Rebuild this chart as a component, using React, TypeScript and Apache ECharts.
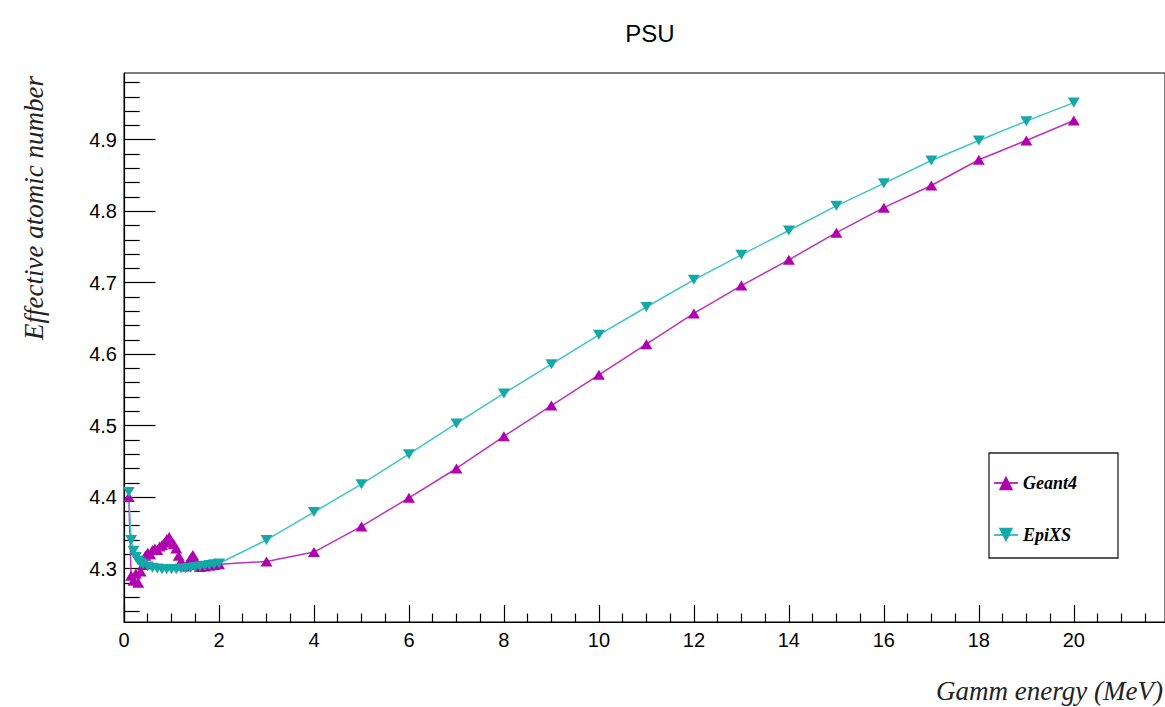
import { useEffect, useRef } from "react";
import * as echarts from "echarts";

// Geant4 (magenta, up triangles)
const geant4Energy = [
  0.1, 0.15, 0.2, 0.25, 0.3, 0.35, 0.4, 0.45, 0.5, 0.55, 0.6, 0.65, 0.7, 0.75, 0.8, 0.85, 0.9, 0.95,
  1.0, 1.05, 1.1, 1.15, 1.2, 1.25, 1.3, 1.35, 1.4, 1.45, 1.5, 1.55, 1.6, 1.7, 1.8, 1.9, 2.0,
  3, 4, 5, 6, 7, 8, 9, 10, 11, 12, 13, 14, 15, 16, 17, 18, 19, 20,
];
const geant4Zeff = [
  4.4, 4.29, 4.283, 4.293, 4.28, 4.296, 4.305, 4.318, 4.322, 4.32, 4.326, 4.328, 4.326, 4.331, 4.333, 4.336, 4.341, 4.344,
  4.338, 4.334, 4.328, 4.318, 4.31, 4.304, 4.303, 4.306, 4.314, 4.319, 4.312, 4.305, 4.302, 4.303, 4.304, 4.305, 4.306,
  4.31, 4.323, 4.359, 4.399, 4.44, 4.485, 4.528, 4.571, 4.614, 4.657, 4.696, 4.732, 4.77, 4.805, 4.836, 4.872, 4.899, 4.927,
];

// EpiXS (cyan, down triangles)
const epixsEnergy = [
  0.1, 0.15, 0.2, 0.25, 0.3, 0.35, 0.4, 0.5, 0.6, 0.7, 0.8, 0.9, 1.0, 1.1, 1.2, 1.3, 1.4, 1.5, 1.6, 1.7, 1.8, 1.9, 2.0,
  3, 4, 5, 6, 7, 8, 9, 10, 11, 12, 13, 14, 15, 16, 17, 18, 19, 20,
];
const epixsZeff = [
  4.407, 4.34, 4.325, 4.316, 4.311, 4.308, 4.306, 4.303, 4.301, 4.3, 4.299, 4.299, 4.299, 4.299, 4.3, 4.3, 4.301, 4.302, 4.303, 4.304, 4.305, 4.306, 4.307,
  4.34, 4.379, 4.418, 4.46, 4.503, 4.545, 4.586, 4.627, 4.666, 4.704, 4.739, 4.773, 4.8075, 4.839, 4.871, 4.899, 4.926, 4.952,
];

const xTickLabels = [0, 2, 4, 6, 8, 10, 12, 14, 16, 18, 20];
const yTickLabels = [4.3, 4.4, 4.5, 4.6, 4.7, 4.8, 4.9];

const X_MIN = 0;
const X_MAX = 21.92;
const Y_MIN = 4.2252;
const Y_MAX = 4.9934;

const xMinorTicks: number[] = [];
for (let i = 1; i <= 43; i++) {
  const v = i * 0.5;
  if (i % 4 !== 0 && v < X_MAX) xMinorTicks.push(v);
}
const yMinorTicks: number[] = [];
for (let i = 212; i <= 249; i++) {
  const v = +(i * 0.02).toFixed(2);
  if (i % 5 !== 0 && v > Y_MIN && v < Y_MAX) yMinorTicks.push(v);
}

const G4_LINE = "#c030c0";
const G4_MARK = "#b000b0";
const EP_LINE = "#3cc6c6";
const EP_MARK = "#14a8a8";

const SANS = "'Liberation Sans', Arial, Helvetica, sans-serif";
const SERIF = "'Liberation Serif', 'Times New Roman', serif";

export default function App() {
  const ref = useRef<HTMLDivElement>(null);

  useEffect(() => {
    if (!ref.current) return;
    const chart = echarts.init(ref.current, null, { renderer: "svg" });

    const gridBox = { left: 124, top: 73, right: 0, bottom: 85 };

    chart.setOption({
      animation: false,
      backgroundColor: "#ffffff",
      title: {
        text: "PSU",
        left: 645,
        top: 16,
        textAlign: "center",
        textStyle: { fontFamily: SANS, fontSize: 24, fontWeight: "normal", color: "#000" },
      },
      legend: {
        orient: "vertical",
        left: 989,
        top: 453,
        padding: [21, 41, 14, 4],
        itemWidth: 24,
        itemHeight: 18,
        itemGap: 34,
        borderColor: "#222",
        borderWidth: 1.3,
        backgroundColor: "#fff",
        data: ["Geant4", "EpiXS"],
        textStyle: {
          fontFamily: SERIF,
          fontStyle: "italic",
          fontWeight: "bold",
          fontSize: 18,
          color: "#000",
        },
      },
      grid: { ...gridBox, show: true, borderColor: "#000", borderWidth: 1, backgroundColor: "transparent" },
      xAxis: [
        {
          type: "value",
          min: X_MIN,
          max: X_MAX,
          position: "bottom",
          axisLine: { show: true, lineStyle: { color: "#000", width: 1.2 } },
          axisTick: {
            show: true,
            inside: true,
            length: 17,
            customValues: xTickLabels,
            lineStyle: { color: "#000", width: 1.2 },
          },
          axisLabel: {
            customValues: xTickLabels,
            margin: 8,
            fontFamily: SANS,
            fontSize: 20,
            color: "#000",
          },
          splitLine: { show: false },
        },
        {
          type: "value",
          min: X_MIN,
          max: X_MAX,
          position: "bottom",
          axisLine: { show: false },
          axisTick: {
            show: true,
            inside: true,
            length: 8.5,
            customValues: xMinorTicks,
            lineStyle: { color: "#000", width: 1.2 },
          },
          axisLabel: { show: false, customValues: xMinorTicks },
          splitLine: { show: false },
        },
      ],
      yAxis: [
        {
          type: "value",
          min: Y_MIN,
          max: Y_MAX,
          position: "left",
          axisLine: { show: true, lineStyle: { color: "#000", width: 1.2 } },
          axisTick: {
            show: true,
            inside: true,
            length: 31.5,
            customValues: yTickLabels,
            lineStyle: { color: "#000", width: 1.2 },
          },
          axisLabel: {
            customValues: yTickLabels,
            formatter: (v: number) => v.toFixed(1),
            margin: 7,
            fontFamily: SANS,
            fontSize: 20,
            color: "#000",
          },
          splitLine: { show: false },
        },
        {
          type: "value",
          min: Y_MIN,
          max: Y_MAX,
          position: "left",
          axisLine: { show: false },
          axisTick: {
            show: true,
            inside: true,
            length: 15.7,
            customValues: yMinorTicks,
            lineStyle: { color: "#000", width: 1.2 },
          },
          axisLabel: { show: false, customValues: yMinorTicks },
          splitLine: { show: false },
        },
      ],
      series: [
        {
          name: "Geant4",
          type: "line",
          xAxisIndex: 0,
          yAxisIndex: 0,
          data: geant4Energy.map((e, i) => [e, geant4Zeff[i]]),
          symbol: "triangle",
          symbolSize: [12, 10],
          showAllSymbol: true,
          itemStyle: { color: G4_MARK },
          lineStyle: { color: G4_LINE, width: 1.5 },
          emphasis: { disabled: true },
        },
        {
          name: "EpiXS",
          type: "line",
          xAxisIndex: 0,
          yAxisIndex: 0,
          data: epixsEnergy.map((e, i) => [e, epixsZeff[i]]),
          symbol: "path://M0,0L10,0L5,9Z",
          symbolSize: [12, 10],
          showAllSymbol: true,
          itemStyle: { color: EP_MARK },
          lineStyle: { color: EP_LINE, width: 1.5 },
          emphasis: { disabled: true },
        },
      ],
      graphic: [
        {
          type: "text",
          x: 1163,
          y: 691,
          style: {
            text: "Gamm energy (MeV)",
            textAlign: "right",
            textVerticalAlign: "middle",
            fontFamily: SERIF,
            fontStyle: "italic",
            fontSize: 27,
            fill: "#222",
          },
        },
        {
          type: "text",
          x: 34,
          y: 76,
          rotation: Math.PI / 2,
          style: {
            text: "Effective atomic number",
            textAlign: "right",
            textVerticalAlign: "middle",
            fontFamily: SERIF,
            fontStyle: "italic",
            fontSize: 27,
            fill: "#222",
          },
        },
      ],
    });

    return () => chart.dispose();
  }, []);

  return (
    <div
      ref={ref}
      style={{ position: "absolute", left: 0, top: 0, width: 1165, height: 707, background: "#fff" }}
    />
  );
}
